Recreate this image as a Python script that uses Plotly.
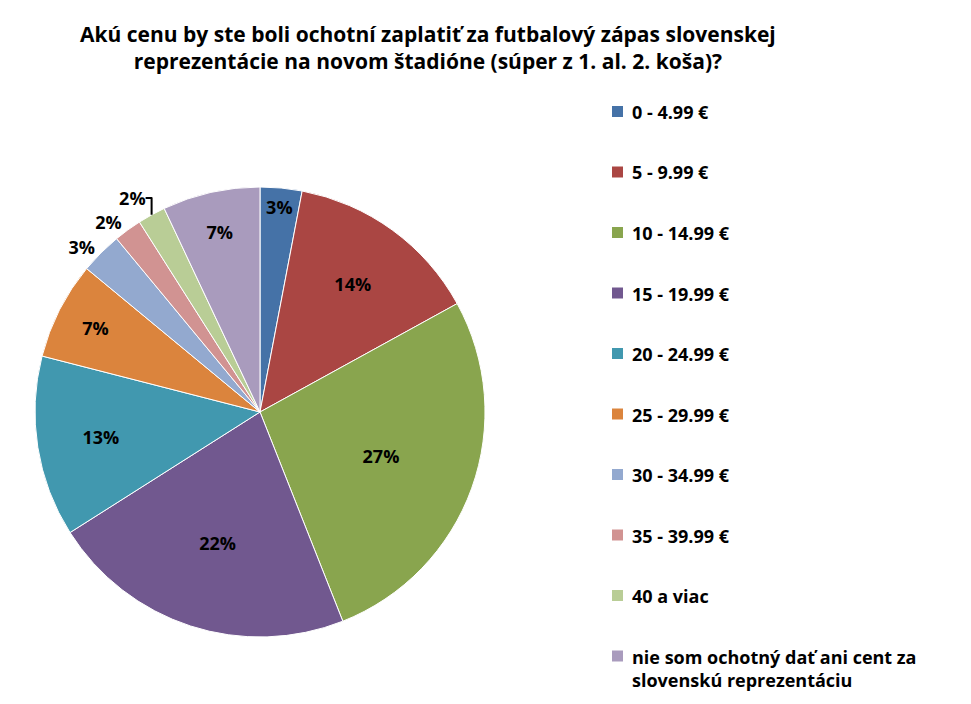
import plotly.graph_objects as go

labels = ["0 - 4.99 €", "5 - 9.99 €", "10 - 14.99 €", "15 - 19.99 €", "20 - 24.99 €",
          "25 - 29.99 €", "30 - 34.99 €", "35 - 39.99 €", "40 a viac",
          "nie som ochotný dať ani cent za<br>slovenskú reprezentáciu"]
values = [3, 14, 27, 22, 13, 7, 3, 2, 2, 7]
colors = ["#4572A7", "#AA4643", "#89A54E", "#71588F", "#4198AF",
          "#DB843D", "#93A9CF", "#D19392", "#B9CD96", "#A99BBD"]
positions = ["inside"] * 6 + ["outside"] * 3 + ["inside"]

W, H = 971, 704
font = "Open Sans"

fig = go.Figure(go.Pie(
    labels=labels, values=values, sort=False, direction="clockwise", rotation=0,
    marker=dict(colors=colors, line=dict(color="white", width=1)),
    texttemplate="%{percent:.0%}", textposition=positions,
    textfont=dict(family=font, size=18, color="black", weight="bold"),
    insidetextorientation="horizontal",
    domain=dict(x=[27 / W, 477 / W], y=[1 - 629 / H, 1 - 179 / H]),
    showlegend=False,
))

# legend drawn manually to match the wide spacing of the original
for i, (lab, col) in enumerate(zip(labels, colors)):
    yc = 103 + i * 60.5
    fig.add_shape(type="rect", xref="paper", yref="paper",
                  x0=604 / W, x1=615 / W, y0=1 - (yc + 6) / H, y1=1 - (yc - 5) / H,
                  fillcolor=col, line=dict(width=0))
    fig.add_annotation(x=622 / W, y=1 - (yc - 13) / H, xref="paper", yref="paper",
                       text=lab, showarrow=False, xanchor="left", yanchor="top", align="left",
                       font=dict(family=font, size=18, color="black", weight="bold"))

fig.add_annotation(x=420 / W, y=1 - 10 / H, xref="paper", yref="paper",
                   text="Akú cenu by ste boli ochotní zaplatiť za futbalový zápas slovenskej<br>reprezentácie na novom štadióne (súper z 1. al. 2. koša)?",
                   showarrow=False, xanchor="center", yanchor="top",
                   font=dict(family=font, size=21, color="black", weight="bold"))

fig.update_layout(width=W, height=H, margin=dict(l=0, r=0, t=0, b=0),
                  paper_bgcolor="white", plot_bgcolor="white")
fig.write_html("out.html")
